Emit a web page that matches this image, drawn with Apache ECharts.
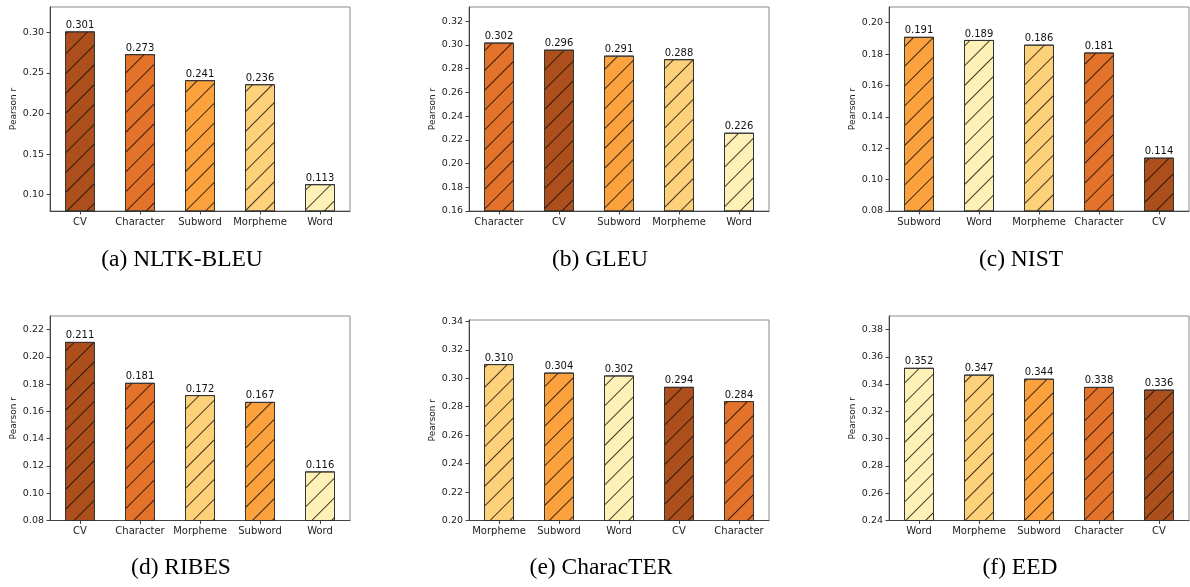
<!DOCTYPE html>
<html>
<head>
<meta charset="utf-8">
<script src="https://cdn.jsdelivr.net/npm/echarts@6/dist/echarts.min.js"></script>
<style>
html,body{margin:0;padding:0;background:#fff;}
#chart{width:1190px;height:587px;}
</style>
</head>
<body>
<div id="chart"></div>
<script>
// ---- data ----
const categoriesA = ['CV', 'Character', 'Subword', 'Morpheme', 'Word'];
const valuesA = [0.301, 0.273, 0.241, 0.236, 0.113];
const categoriesB = ['Character', 'CV', 'Subword', 'Morpheme', 'Word'];
const valuesB = [0.302, 0.296, 0.291, 0.288, 0.226];
const categoriesC = ['Subword', 'Word', 'Morpheme', 'Character', 'CV'];
const valuesC = [0.191, 0.189, 0.186, 0.181, 0.114];
const categoriesD = ['CV', 'Character', 'Morpheme', 'Subword', 'Word'];
const valuesD = [0.211, 0.181, 0.172, 0.167, 0.116];
const categoriesE = ['Morpheme', 'Subword', 'Word', 'CV', 'Character'];
const valuesE = [0.310, 0.304, 0.302, 0.294, 0.284];
const categoriesF = ['Word', 'Morpheme', 'Subword', 'Character', 'CV'];
const valuesF = [0.352, 0.347, 0.344, 0.338, 0.336];

const ticksA = [0.10, 0.15, 0.20, 0.25, 0.30];
const ticksB = [0.16, 0.18, 0.20, 0.22, 0.24, 0.26, 0.28, 0.30, 0.32];
const ticksC = [0.08, 0.10, 0.12, 0.14, 0.16, 0.18, 0.20];
const ticksD = [0.08, 0.10, 0.12, 0.14, 0.16, 0.18, 0.20, 0.22];
const ticksE = [0.20, 0.22, 0.24, 0.26, 0.28, 0.30, 0.32, 0.34];
const ticksF = [0.24, 0.26, 0.28, 0.30, 0.32, 0.34, 0.36, 0.38];

const rangeA = [0.08, 0.331];
const rangeB = [0.16, 0.332];
const rangeC = [0.08, 0.21];
const rangeD = [0.08, 0.23];
const rangeE = [0.20, 0.341];
const rangeF = [0.24, 0.39];

const captions = ['(a) NLTK-BLEU', '(b) GLEU', '(c) NIST', '(d) RIBES', '(e) CharacTER', '(f) EED'];
const yName = 'Pearson r';

// ---- styling / layout ----
const colorMap = {
  'CV': '#ad4f1c',
  'Character': '#e3722a',
  'Subword': '#fba13e',
  'Morpheme': '#fdd17a',
  'Word': '#fef1b8'
};

const panels = [
  {cats: categoriesA, vals: valuesA, ticks: ticksA, range: rangeA, grid: {left: 50, top: 7, width: 300, height: 204}, cap: [182, 260]},
  {cats: categoriesB, vals: valuesB, ticks: ticksB, range: rangeB, grid: {left: 469, top: 7, width: 300, height: 204}, cap: [600, 260]},
  {cats: categoriesC, vals: valuesC, ticks: ticksC, range: rangeC, grid: {left: 889, top: 7, width: 300, height: 204}, cap: [1021, 260]},
  {cats: categoriesD, vals: valuesD, ticks: ticksD, range: rangeD, grid: {left: 50, top: 316, width: 300, height: 204.5}, cap: [181, 568]},
  {cats: categoriesE, vals: valuesE, ticks: ticksE, range: rangeE, grid: {left: 469, top: 320, width: 300, height: 200.5}, cap: [601, 568]},
  {cats: categoriesF, vals: valuesF, ticks: ticksF, range: rangeF, grid: {left: 889, top: 316, width: 300, height: 204.5}, cap: [1020, 568]}
];

const FONT = 'DejaVu Sans';
const grids = [], xAxes = [], yAxes = [], series = [], graphics = [];

panels.forEach((p, i) => {
  grids.push(Object.assign({show: true, borderColor: '#8a8a8a', borderWidth: 1, backgroundColor: 'transparent'}, p.grid));
  xAxes.push({
    type: 'category', gridIndex: i, data: p.cats,
    axisLine: {show: true, lineStyle: {color: '#444', width: 1}},
    axisTick: {show: true, alignWithLabel: true, length: 3.5, lineStyle: {color: '#444'}},
    axisLabel: {color: '#222', fontSize: 10, fontFamily: FONT, margin: 6, interval: 0},
    splitLine: {show: false}
  });
  yAxes.push({
    type: 'value', gridIndex: i, min: p.range[0], max: p.range[1],
    name: yName, nameLocation: 'middle', nameGap: 32,
    nameTextStyle: {color: '#222', fontSize: 9, fontFamily: FONT},
    axisLine: {show: true, lineStyle: {color: '#444', width: 1}},
    axisTick: {show: true, length: 3.5, lineStyle: {color: '#444'}, customValues: p.ticks},
    axisLabel: {color: '#222', fontSize: 9.5, fontFamily: FONT, margin: 6, customValues: p.ticks,
      formatter: v => Number(v).toFixed(2)},
    splitLine: {show: false}
  });
  series.push({
    type: 'bar', xAxisIndex: i, yAxisIndex: i,
    data: p.vals.map((v, k) => ({value: v, itemStyle: {color: colorMap[p.cats[k]]}})),
    barWidth: '50%',
    itemStyle: {
      borderColor: '#333', borderWidth: 1,
      decal: {
        symbol: 'rect', symbolSize: 1,
        dashArrayX: [1, 0], dashArrayY: [0.8, 13],
        rotation: -Math.PI / 4,
        color: 'rgba(20,10,0,0.8)'
      }
    },
    label: {show: true, position: 'top', distance: 1, color: '#111', fontSize: 10, fontFamily: FONT,
      formatter: q => Number(q.value).toFixed(3)},
    silent: true, animation: false
  });
  graphics.push({
    type: 'text', x: p.cap[0], y: p.cap[1],
    style: {text: captions[i], font: '23.5px "Liberation Serif"', fill: '#000', align: 'center', verticalAlign: 'middle'}
  });
});

const chart = echarts.init(document.getElementById('chart'), null, {renderer: 'canvas'});
chart.setOption({
  animation: false,
  backgroundColor: '#fff',
  grid: grids, xAxis: xAxes, yAxis: yAxes, series: series, graphic: graphics
});
</script>
</body>
</html>
